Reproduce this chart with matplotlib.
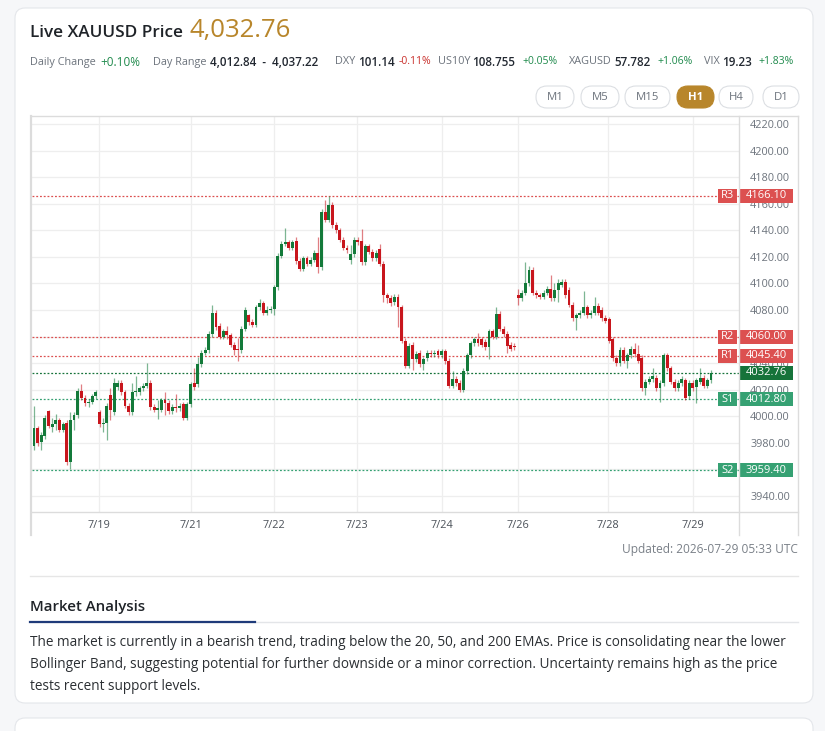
import matplotlib
matplotlib.use('Agg')
import matplotlib.pyplot as plt
from matplotlib.patches import FancyBboxPatch, Rectangle
from matplotlib.transforms import blended_transform_factory

# hourly XAUUSD candles
opens = [
    3978, 3991, 3981, 3985, 4004, 3992, 3994, 3997, 3990, 3995,
    3966, 3997, 4001, 4019, 4014, 4010, 4011, 4015, 4003, 3994,
    3995, 4016, 4003, 4022, 4025, 4018, 4008, 4003, 4018, 4018,
    4021, 4023, 4025, 4007, 4005, 4005, 4012, 4010, 4004, 4007,
    4006, 4009, 3999, 4009, 4025, 4024, 4039, 4048, 4050, 4062,
    4078, 4068, 4060, 4064, 4061, 4054, 4051, 4050, 4066, 4076,
    4071, 4069, 4082, 4085, 4078, 4080, 4081, 4097, 4121, 4130,
    4131, 4127, 4132, 4117, 4111, 4119, 4115, 4118, 4123, 4112,
    4154, 4148, 4159, 4144, 4140, 4133, 4127, 4118, 4122, 4133,
    4132, 4116, 4128, 4124, 4119, 4126, 4115, 4091, 4089, 4086,
    4090, 4082, 4057, 4038, 4054, 4043, 4048, 4039, 4044, 4048,
    4047, 4049, 4046, 4049, 4042, 4023, 4028, 4025, 4020, 4034,
    4046, 4055, 4058, 4058, 4056, 4052, 4064, 4060, 4077, 4066,
    4062, 4054, 4053, 4091, 4089, 4093, 4100, 4110, 4093, 4091,
    4090, 4093, 4096, 4089, 4095, 4099, 4101, 4095, 4084, 4074,
    4076, 4078, 4082, 4076, 4078, 4083, 4080, 4074, 4073, 4058,
    4044, 4040, 4050, 4042, 4046, 4051, 4047, 4044, 4021, 4026,
    4028, 4029, 4021, 4025, 4046, 4036, 4026, 4021, 4025, 4027,
    4015, 4025, 4022, 4026, 4029, 4023, 4027,
]
highs = [
    4008, 3993, 3988, 4001, 4005, 3999, 4002, 3999, 3996, 3997,
    4003, 4003, 4021, 4024, 4016, 4013, 4017, 4020, 4005, 3999,
    4010, 4021, 4029, 4027, 4027, 4020, 4010, 4025, 4030, 4023,
    4025, 4040, 4027, 4009, 4012, 4014, 4018, 4012, 4009, 4017,
    4010, 4011, 4011, 4026, 4036, 4045, 4050, 4052, 4064, 4084,
    4080, 4070, 4066, 4068, 4063, 4056, 4059, 4068, 4082, 4077,
    4073, 4084, 4088, 4087, 4083, 4083, 4099, 4123, 4132, 4142,
    4133, 4133, 4135, 4119, 4121, 4121, 4120, 4125, 4135, 4156,
    4163, 4166, 4161, 4146, 4142, 4135, 4129, 4129, 4135, 4135,
    4141, 4130, 4130, 4126, 4125, 4130, 4117, 4093, 4091, 4092,
    4092, 4084, 4059, 4055, 4056, 4049, 4050, 4045, 4050, 4050,
    4050, 4051, 4051, 4051, 4044, 4034, 4030, 4027, 4036, 4048,
    4057, 4060, 4063, 4060, 4058, 4066, 4066, 4082, 4079, 4068,
    4064, 4056, 4055, 4096, 4095, 4116, 4113, 4112, 4095, 4093,
    4095, 4098, 4106, 4100, 4103, 4103, 4103, 4097, 4086, 4078,
    4080, 4094, 4084, 4080, 4090, 4085, 4082, 4076, 4075, 4060,
    4046, 4052, 4052, 4048, 4053, 4055, 4054, 4046, 4028, 4030,
    4036, 4031, 4027, 4048, 4048, 4038, 4028, 4027, 4030, 4029,
    4027, 4027, 4029, 4036, 4031, 4029, 4035,
]
lows = [
    3975, 3978, 3975, 3983, 3991, 3988, 3990, 3988, 3988, 3963,
    3960, 3990, 3999, 4012, 4008, 4007, 4009, 4013, 3992, 3988,
    3982, 3997, 4001, 4020, 4016, 4006, 4001, 4001, 4015, 4016,
    4019, 4021, 4005, 4003, 3998, 4003, 4001, 4002, 4002, 4003,
    4004, 3997, 3997, 4007, 4020, 4022, 4037, 4046, 4048, 4060,
    4065, 4058, 4058, 4058, 4052, 4046, 4042, 4048, 4064, 4069,
    4067, 4067, 4080, 4076, 4076, 4078, 4076, 4095, 4119, 4128,
    4125, 4125, 4115, 4109, 4109, 4113, 4113, 4116, 4108, 4110,
    4146, 4146, 4142, 4138, 4131, 4125, 4123, 4115, 4120, 4129,
    4114, 4114, 4122, 4117, 4117, 4113, 4086, 4085, 4083, 4084,
    4067, 4055, 4036, 4036, 4035, 4041, 4037, 4035, 4042, 4045,
    4045, 4044, 4044, 4039, 4021, 4021, 4023, 4018, 4018, 4032,
    4044, 4053, 4053, 4052, 4050, 4043, 4058, 4058, 4064, 4060,
    4048, 4049, 4050, 4084, 4087, 4091, 4098, 4091, 4089, 4088,
    4088, 4091, 4087, 4087, 4086, 4097, 4089, 4082, 4072, 4065,
    4074, 4076, 4074, 4074, 4076, 4076, 4072, 4070, 4055, 4042,
    4038, 4038, 4040, 4036, 4044, 4045, 4040, 4019, 4016, 4024,
    4026, 4019, 4011, 4023, 4034, 4024, 4019, 4019, 4023, 4012,
    4013, 4019, 4010, 4024, 4021, 4021, 4025,
]
closes = [
    3991, 3980, 3986, 3999, 3993, 3994, 3997, 3990, 3994, 3966,
    3997, 4001, 4019, 4014, 4010, 4011, 4015, 4018, 3994, 3995,
    4008, 4005, 4025, 4025, 4018, 4008, 4003, 4018, 4019, 4021,
    4023, 4025, 4007, 4005, 4006, 4012, 4010, 4004, 4007, 4006,
    4008, 3999, 4009, 4024, 4022, 4039, 4048, 4050, 4062, 4078,
    4067, 4060, 4064, 4061, 4054, 4050, 4050, 4066, 4080, 4071,
    4069, 4082, 4085, 4078, 4080, 4081, 4097, 4121, 4130, 4131,
    4127, 4131, 4117, 4111, 4119, 4115, 4118, 4123, 4112, 4154,
    4148, 4159, 4144, 4140, 4133, 4127, 4125, 4122, 4133, 4131,
    4116, 4128, 4124, 4119, 4123, 4115, 4091, 4089, 4085, 4090,
    4082, 4057, 4038, 4053, 4043, 4047, 4039, 4043, 4048, 4047,
    4048, 4046, 4049, 4042, 4023, 4028, 4025, 4020, 4034, 4046,
    4055, 4058, 4055, 4054, 4052, 4064, 4060, 4077, 4066, 4062,
    4053, 4051, 4052, 4089, 4093, 4100, 4110, 4093, 4091, 4090,
    4093, 4096, 4089, 4095, 4100, 4101, 4091, 4084, 4074, 4076,
    4078, 4082, 4076, 4078, 4083, 4078, 4074, 4072, 4057, 4044,
    4040, 4050, 4042, 4046, 4051, 4047, 4042, 4021, 4026, 4028,
    4030, 4021, 4025, 4046, 4036, 4026, 4021, 4025, 4028, 4014,
    4025, 4021, 4027, 4029, 4023, 4027, 4032.76,
]

date_labels = ['7/19', '7/21', '7/22', '7/23', '7/24', '7/26', '7/28', '7/29']
date_idx = [17.9, 43.0, 65.9, 88.8, 112.0, 133.0, 157.8, 181.0]
price_ticks = [3940, 3960, 3980, 4000, 4020, 4040, 4060, 4080, 4100,
               4120, 4140, 4160, 4180, 4200, 4220]

level_names = ['R3', 'R2', 'R1', 'S1', 'S2']
level_values = [4166.10, 4060.00, 4045.40, 4012.80, 3959.40]
current_price = 4032.76

quote_labels = ['Daily Change', 'Day Range', 'DXY', 'US10Y', 'XAGUSD', 'VIX']
quote_values = ['+0.10%', '4,012.84  -  4,037.22', '101.14', '108.755', '57.782', '19.23']
quote_changes = ['', '', '-0.11%', '+0.05%', '+1.06%', '+1.83%']

timeframes = ['M1', 'M5', 'M15', 'H1', 'H4', 'D1']
active_tf = 'H1'

analysis_lines = [
    "The market is currently in a bearish trend, trading below the 20, 50, and 200 EMAs. Price is consolidating near the lower",
    "Bollinger Band, suggesting potential for further downside or a minor correction. Uncertainty remains high as the price",
    "tests recent support levels.",
]

W, H = 825, 731
FONT = 'Open Sans'
GOLD = '#b8862b'
UP = '#137a3a'
DOWN = '#c8161d'
RES = '#dc5050'
SUP = '#36a173'
CUR = '#16733a'


def put(fig, px, py, s, **kw):
    # place text using screenshot pixel coordinates (top-left origin)
    fig.text(px / 100, (H - py) / 100, s, transform=fig.dpi_scale_trans,
             fontfamily=FONT, **kw)


def pline(fig, x0, y0, x1, y1, **kw):
    fig.add_artist(plt.Line2D([x0 / 100, x1 / 100], [(H - y0) / 100, (H - y1) / 100],
                              transform=fig.dpi_scale_trans, **kw))


def draw():
    fig = plt.figure(figsize=(W / 100, H / 100), dpi=100)
    fig.patch.set_facecolor('#f6f7f9')

    # cards (kept behind the chart axes)
    fig.add_artist(FancyBboxPatch((0.15, (H - 703) / 100), 7.98, 6.95,
                                  boxstyle='round,pad=0,rounding_size=0.1',
                                  transform=fig.dpi_scale_trans, zorder=-10,
                                  facecolor='white', edgecolor='#e4e6ea', lw=0.8))
    fig.add_artist(FancyBboxPatch((0.15, (H - 760) / 100), 7.98, 0.42,
                                  boxstyle='round,pad=0,rounding_size=0.1',
                                  transform=fig.dpi_scale_trans, zorder=-10,
                                  facecolor='white', edgecolor='#e4e6ea', lw=0.8))

    # header
    put(fig, 30, 33, 'Live XAUUSD Price', fontsize=12.3, fontweight='semibold',
        color='#1f2328', va='center')
    put(fig, 190, 31, '4,032.76', fontsize=18.5, color=GOLD, va='center')

    lab_x = [30, 153, 335, 438, 569, 704]
    val_x = [100, 210, 358, 472, 614, 722]
    chg_x = [None, None, 399, 522, 657, 758]
    for i, lab in enumerate(quote_labels):
        put(fig, lab_x[i], 62, lab, fontsize=7.8, color='#6c737c', va='center')
        if i == 0:
            put(fig, val_x[i], 62, quote_values[i], fontsize=8.5, color='#1f8a4c', va='center')
        else:
            put(fig, val_x[i], 62, quote_values[i], fontsize=8.4, fontweight='semibold',
                color='#222831', va='center')
        if quote_changes[i]:
            c = '#c9302c' if quote_changes[i].startswith('-') else '#1f8a4c'
            put(fig, chg_x[i], 62, quote_changes[i], fontsize=7.5, color=c, va='center')

    # timeframe buttons
    bx = [536, 581, 625, 677, 719, 763]
    bw = [38, 38, 45, 37, 34, 36]
    for i, tf in enumerate(timeframes):
        active = tf == active_tf
        fig.add_artist(FancyBboxPatch((bx[i] / 100, (H - 108) / 100), bw[i] / 100, 0.22,
                                      boxstyle='round,pad=0,rounding_size=0.11',
                                      transform=fig.dpi_scale_trans,
                                      facecolor=GOLD if active else 'white',
                                      edgecolor=GOLD if active else '#dcdfe3', lw=0.8))
        put(fig, bx[i] + bw[i] / 2, 97.5, tf, fontsize=8.2, ha='center', va='center',
            color='white' if active else '#6c737c',
            fontweight='bold' if active else 'normal')

    # chart area
    ax = fig.add_axes([32 / W, 1 - 512 / H, (739 - 32) / W, (512 - 116) / H])
    ax.set_facecolor('white')
    n = len(closes)
    for i in range(n):
        o, h, l, c = opens[i], highs[i], lows[i], closes[i]
        col = UP if c >= o else DOWN
        ax.vlines(i, l, h, color=col, lw=0.9, alpha=0.55, zorder=3)
        lo, hi = min(o, c), max(o, c)
        if hi - lo < 0.8:
            hi = lo + 0.8
        ax.add_patch(Rectangle((i - 0.4, lo), 0.8, hi - lo, facecolor=col,
                               edgecolor='none', zorder=4))

    ax.set_xlim(-0.55, 193.7)
    ax.set_ylim(3928, 4226)
    ax.set_yticks(price_ticks)
    ax.set_yticklabels([f'{t:.2f}' for t in price_ticks])
    ax.yaxis.tick_right()
    ax.set_xticks(date_idx)
    ax.set_xticklabels(date_labels)
    ax.tick_params(axis='y', length=0, pad=8, labelsize=7.8, labelcolor='#6c737c')
    ax.tick_params(axis='x', length=0, pad=6, labelsize=7.8, labelcolor='#4a5058')
    for lbl in ax.get_xticklabels() + ax.get_yticklabels():
        lbl.set_fontfamily(FONT)
    ax.grid(True, color='#eeeeee', lw=0.9, zorder=0)
    ax.set_axisbelow(True)
    for s in ax.spines.values():
        s.set_visible(False)

    # support / resistance levels
    bt = blended_transform_factory(fig.dpi_scale_trans, ax.transData)
    box_h = 14 * 298 / 396
    for name, val in zip(level_names, level_values):
        col = RES if name.startswith('R') else SUP
        ax.axhline(val, color=col, lw=0.9, ls=(0, (1.5, 1.5)), zorder=2)
        for x0, w, txt in [(718, 19, name), (740, 53, f'{val:.2f}')]:
            ax.add_patch(Rectangle((x0 / 100, val - box_h / 2), w / 100, box_h,
                                   transform=bt, facecolor=col, edgecolor='none',
                                   clip_on=False, zorder=6))
            ax.text((x0 + w / 2) / 100, val, txt, transform=bt, ha='center', va='center',
                    fontsize=8, color='white', fontfamily=FONT, clip_on=False, zorder=7)
    ax.axhline(current_price, color=CUR, lw=0.9, ls=(0, (1.5, 1.5)), zorder=2)
    ax.add_patch(Rectangle((740 / 100, current_price - box_h / 2), 53 / 100, box_h,
                           transform=bt, facecolor=CUR, edgecolor='none',
                           clip_on=False, zorder=6))
    ax.text(766.5 / 100, current_price, f'{current_price:.2f}', transform=bt,
            ha='center', va='center', fontsize=8, color='white', fontfamily=FONT,
            clip_on=False, zorder=7)

    # chart frame
    frame = '#dcdcdc'
    pline(fig, 31, 116, 31, 535, color=frame, lw=1.6)
    pline(fig, 31, 116, 798, 116, color=frame, lw=1)
    pline(fig, 798, 116, 798, 535, color=frame, lw=1)
    pline(fig, 739, 116, 739, 535, color=frame, lw=1)
    pline(fig, 31, 512, 798, 512, color=frame, lw=1)

    put(fig, 798, 550, 'Updated: 2026-07-29 05:33 UTC', fontsize=8.6, color='#7a8088',
        ha='right', va='center')
    pline(fig, 30, 576, 798, 576, color='#e6e6e6', lw=1)

    # market analysis
    put(fig, 30, 607, 'Market Analysis', fontsize=10.8, fontweight='semibold',
        color='#1f2328', va='center')
    pline(fig, 30, 622, 798, 622, color='#e3e5e8', lw=1)
    pline(fig, 30, 622, 255, 622, color='#1f3b7a', lw=1.6)
    for k, line in enumerate(analysis_lines):
        put(fig, 30, 642 + 22 * k, line, fontsize=9.8, color='#2b2f33', va='center')

    fig.savefig('out.png', dpi=100, facecolor=fig.get_facecolor())
    plt.close(fig)


if __name__ == '__main__':
    draw()
